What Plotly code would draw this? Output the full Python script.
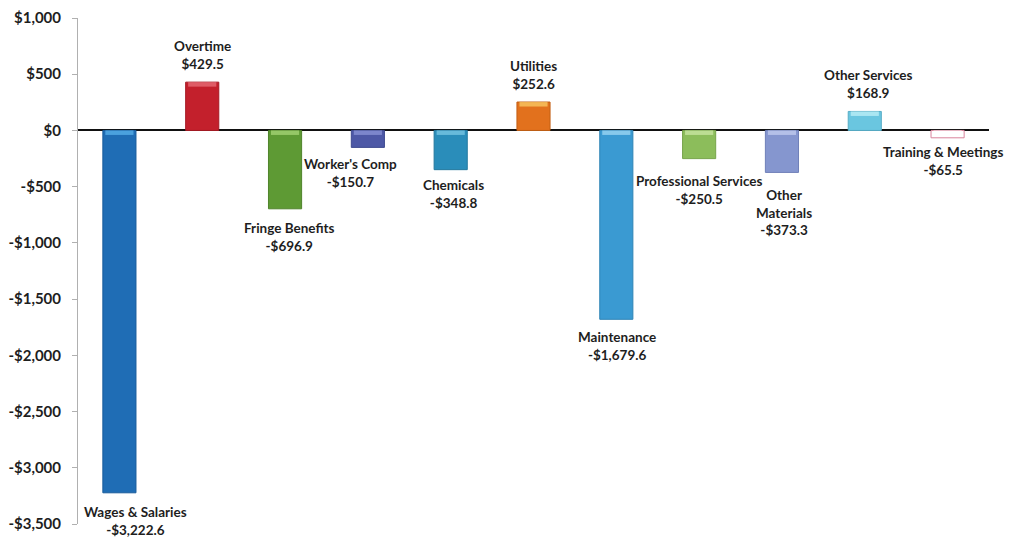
import plotly.graph_objects as go

categories = ["Wages & Salaries", "Overtime", "Fringe Benefits", "Worker's Comp", "Chemicals",
              "Utilities", "Maintenance", "Professional Services", "Other<br>Materials",
              "Other Services", "Training & Meetings"]
values = [-3222.6, 429.5, -696.9, -150.7, -348.8, 252.6, -1679.6, -250.5, -373.3, 168.9, -65.5]
value_labels = ["-$3,222.6", "$429.5", "-$696.9", "-$150.7", "-$348.8", "$252.6",
                "-$1,679.6", "-$250.5", "-$373.3", "$168.9", "-$65.5"]
tick_vals = [1000, 500, 0, -500, -1000, -1500, -2000, -2500, -3000, -3500]
tick_text = ["$1,000", "$500", "$0", "-$500", "-$1,000", "-$1,500", "-$2,000", "-$2,500", "-$3,000", "-$3,500"]

colors = ["#1f6db5", "#c3202c", "#5e9a34", "#4d58a6", "#2a8dba", "#e2711d",
          "#3a9ad2", "#8cbd5b", "#8596cf", "#6ac6e0", "#ffffff"]
line_colors = ["#195c9c", "#a51a24", "#4f842b", "#3f4a8f", "#23789e", "#c25f15",
               "#2f84b6", "#77a34b", "#6f80b8", "#58adc6", "#d9849c"]
cap_colors = ["#5ab3ec", "#e8707a", "#a8d678", "#8c96d8", "#7ccae6", "#f9cc66",
              "#a0d8f4", "#cce8a6", "#c4cef0", "#c0f0f8", "#ffffff"]
label_xshift = [16, 0, 4, -17, 3, 0, 1, 0, 2, 4, -5]
label_yshift = [-9, 8, -9, -7, -5, 8, -8, -12, -13, 8, -4]

x = list(range(len(values)))

fig = go.Figure()
fig.add_trace(go.Bar(
    x=x, y=values, width=0.4,
    marker=dict(color=colors, line=dict(color=line_colors, width=1)),
    hoverinfo="skip",
))
# lighter top cap (3D look)
cap_h = 40
cap_base = [v - cap_h if v > 0 else -cap_h for v in values]
fig.add_trace(go.Bar(
    x=x, y=[cap_h] * len(values), base=cap_base, width=0.34,
    marker=dict(color=cap_colors, line=dict(width=0), opacity=0.75),
    hoverinfo="skip",
))

for i, (c, v, vl) in enumerate(zip(categories, values, value_labels)):
    fig.add_annotation(
        x=i, y=v, xref="x", yref="y",
        text=f"<b>{c}<br>{vl}</b>", showarrow=False,
        yanchor="bottom" if v > 0 else "top",
        xshift=label_xshift[i], yshift=label_yshift[i],
        font=dict(family="Lato", size=13.5, color="#1e1e1e"),
        align="center",
    )

fig.update_layout(
    width=1010, height=538,
    margin=dict(l=78, r=21, t=18, b=14),
    paper_bgcolor="white", plot_bgcolor="white",
    showlegend=False, barmode="overlay",
    font=dict(family="Lato", color="#1e1e1e"),
)
fig.update_xaxes(range=[-0.5, 10.5], showticklabels=False, showgrid=False,
                 zeroline=False, showline=False, ticks="", automargin=False)
fig.update_yaxes(range=[-3500, 1000], tickvals=tick_vals, ticktext=tick_text,
                 showgrid=False, zeroline=True, zerolinecolor="#111111", zerolinewidth=2,
                 showline=True, linecolor="#b0b0b0", linewidth=1, automargin=False,
                 ticks="outside", ticklen=5, tickcolor="#b0b0b0", ticklabelstandoff=8,
                 tickfont=dict(family="Lato", size=15, color="#1e1e1e", weight="bold"))

fig.write_html("out.html")
